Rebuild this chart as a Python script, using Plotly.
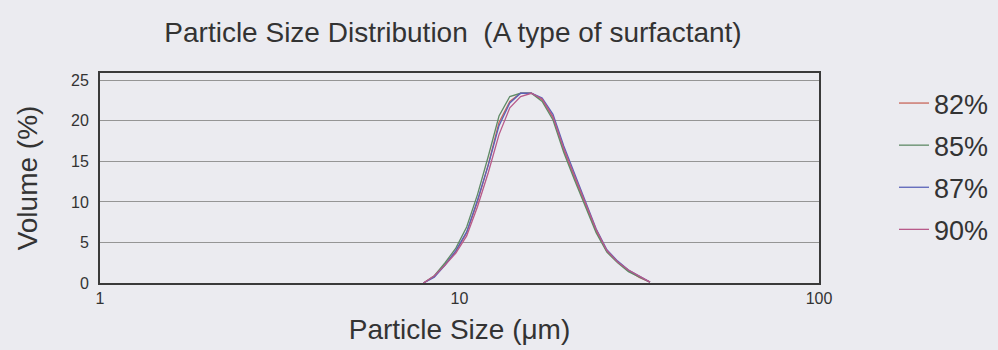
import plotly.graph_objects as go

# Particle sizes (µm), log-spaced
sizes = [7.94, 8.51, 9.12, 9.77, 10.47, 11.22, 12.02, 12.88, 13.80, 14.79, 15.85,
         16.98, 18.20, 19.50, 20.89, 22.39, 23.99, 25.70, 27.54, 29.51, 31.62, 33.88]

vol_82 = [0.0, 0.8, 2.3, 3.9, 6.2, 10.0, 14.6, 19.8, 22.4, 23.4, 23.4,
          22.6, 20.4, 16.4, 13.0, 9.8, 6.4, 3.9, 2.6, 1.5, 0.7, 0.1]
vol_85 = [0.0, 0.9, 2.5, 4.3, 6.9, 10.9, 15.6, 20.6, 23.0, 23.4, 23.4,
          22.4, 20.1, 16.1, 12.7, 9.5, 6.2, 3.8, 2.5, 1.4, 0.7, 0.1]
vol_87 = [0.0, 0.7, 2.2, 4.0, 6.3, 10.2, 14.5, 19.4, 22.2, 23.4, 23.4,
          22.8, 20.8, 16.9, 13.5, 10.2, 6.7, 4.1, 2.7, 1.6, 0.8, 0.1]
vol_90 = [0.0, 0.9, 2.2, 3.7, 5.8, 9.4, 13.6, 18.3, 21.6, 23.0, 23.4,
          22.7, 20.5, 16.6, 13.2, 10.0, 6.6, 4.0, 2.6, 1.6, 0.8, 0.1]

series_names = ["82%", "85%", "87%", "90%"]
series_vals = [vol_82, vol_85, vol_87, vol_90]
colors = ["#c8665a", "#5f8a66", "#5a62b8", "#b85a8a"]

fig = go.Figure()
for name, vals, c in zip(series_names, series_vals, colors):
    fig.add_trace(go.Scatter(x=sizes, y=vals, mode="lines", name=name,
                             legendgroup=name,
                             line=dict(color=c, width=1.3, shape="linear")))

bg = "#ebebf0"
txt = "#333333"
fig.update_layout(
    width=998, height=350,
    paper_bgcolor=bg, plot_bgcolor=bg,
    margin=dict(l=100, r=179, t=73, b=67),
    font=dict(family="Liberation Sans, Arial, sans-serif", color=txt),
    title=dict(text="Particle Size Distribution  (A type of surfactant)",
               x=453 / 998, xanchor="center", y=1 - 32 / 350, yanchor="middle",
               font=dict(size=28, color=txt)),
    showlegend=True,
    legend=dict(xref="container", yref="container",
                x=894 / 998, y=1 - 79 / 350, xanchor="left", yanchor="top",
                bgcolor="rgba(0,0,0,0)", font=dict(size=27, color=txt),
                tracegroupgap=4, itemwidth=30, traceorder="grouped"),
    xaxis=dict(type="log", range=[0, 2], showgrid=False,
               tickvals=[1, 10, 100], ticktext=["1", "10", "100"],
               tickfont=dict(size=16, color=txt),
               showline=True, linecolor="#3a3a3a", linewidth=2, mirror=True,
               ticks="", zeroline=False, automargin=False,
               title=dict(text="Particle Size (μm)", font=dict(size=28, color=txt),
                          standoff=13)),
    yaxis=dict(range=[0, 25.9], tickvals=[0, 5, 10, 15, 20, 25],
               showgrid=True, gridcolor="#959595", gridwidth=1,
               tickfont=dict(size=16, color=txt), ticklabelstandoff=6,
               showline=True, linecolor="#3a3a3a", linewidth=2, mirror=True,
               ticks="", zeroline=False, automargin=False,
               title=dict(text="Volume (%)", font=dict(size=28, color=txt),
                          standoff=25)),
)

fig.write_html("out.html")
